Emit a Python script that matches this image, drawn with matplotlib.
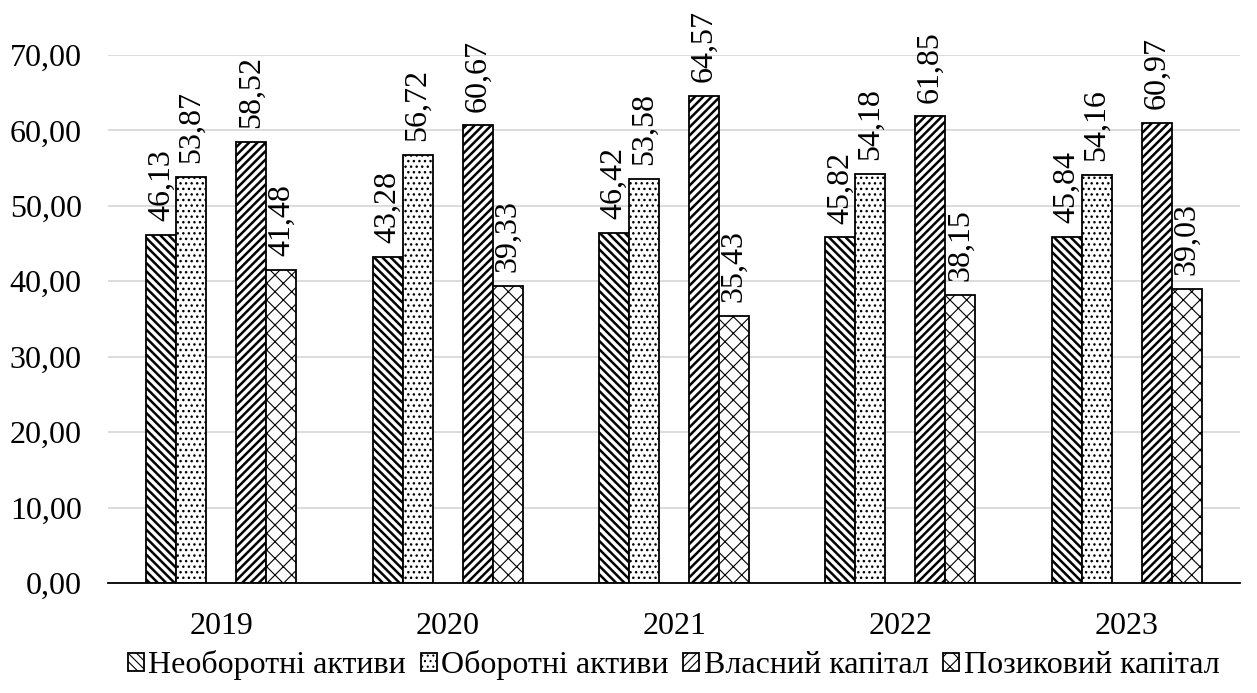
import numpy as np
import matplotlib
matplotlib.use('Agg')
import matplotlib.pyplot as plt

years = ['2019', '2020', '2021', '2022', '2023']
series_names = ['Необоротні активи', 'Оборотні активи', 'Власний капітал', 'Позиковий капітал']
neoborotni = [46.13, 43.28, 46.42, 45.82, 45.84]
oborotni = [53.87, 56.72, 53.58, 54.18, 54.16]
vlasnyi = [58.52, 60.67, 64.57, 61.85, 60.97]
pozykovyi = [41.48, 39.33, 35.43, 38.15, 39.03]

plt.rcParams['font.family'] = 'Liberation Serif'
plt.rcParams['font.size'] = 23


def fmt(v):
    return f"{v:.2f}".replace('.', ',')


fig = plt.figure(figsize=(12.57, 6.93), dpi=100)
ax = fig.add_axes([0.086, 0.1587, 0.9005, 0.7619])

x = np.arange(len(years))
w = 0.1325
# 5 slots per group, the middle one stays empty
offsets = [-2, -1, 1, 2]
hatches = ['\\\\\\\\', '...', '////', 'xx']
hatch_lw = [1.8, 1.0, 1.8, 0.8]
data = [neoborotni, oborotni, vlasnyi, pozykovyi]

for vals, off, h, hlw, name in zip(data, offsets, hatches, hatch_lw, series_names):
    plt.rcParams['hatch.linewidth'] = hlw
    bars = ax.bar(x + off * w, vals, width=w, color='white', edgecolor='black',
                  linewidth=1.3, hatch=h, label=name, zorder=3)
    for b in bars:
        if hasattr(b, 'set_hatch_linewidth'):
            b.set_hatch_linewidth(hlw)
    for xi, v in zip(x, vals):
        ax.annotate(fmt(v), (xi + off * w, v), xytext=(0, 10), textcoords='offset points',
                    rotation=90, ha='center', va='bottom', fontsize=23, annotation_clip=False)

ax.set_xlim(-0.5, 4.5)
ax.set_ylim(0, 70)
ax.set_yticks(np.arange(0, 71, 10))
ax.set_yticklabels([fmt(v) for v in np.arange(0, 71, 10)])
ax.set_xticks(x)
ax.set_xticklabels(years)
ax.tick_params(axis='both', length=0, labelsize=23)
ax.tick_params(axis='x', pad=21)
ax.tick_params(axis='y', pad=19)
ax.grid(axis='y', color='#d9d9d9', linewidth=1.3, zorder=0)
ax.set_axisbelow(True)
for s in ['left', 'right', 'top']:
    ax.spines[s].set_visible(False)
ax.spines['bottom'].set_linewidth(1.3)
ax.spines['bottom'].set_zorder(4)

fig.legend(loc='center', bbox_to_anchor=(0.536, 0.04), ncol=4, frameon=False,
           handlelength=0.5, handleheight=0.5, handletextpad=0.15,
           columnspacing=0.45, prop={'family': 'Liberation Serif', 'size': 23})

fig.savefig('out.png', dpi=100)
